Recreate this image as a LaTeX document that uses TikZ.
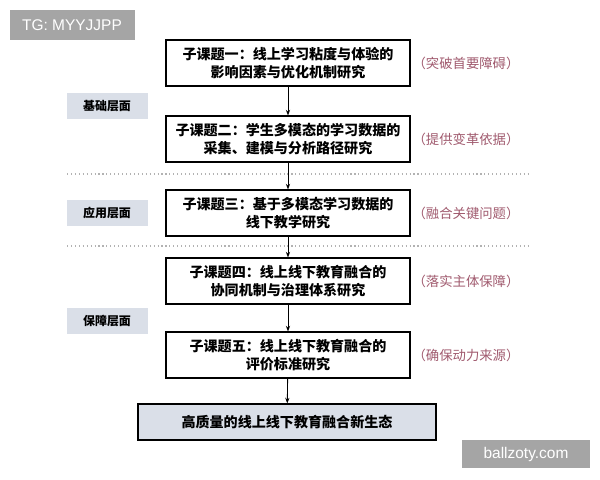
\documentclass[tikz,border=0pt]{standalone}
\usepackage{fontspec}
\setsansfont{Liberation Sans}
\newfontfamily\cjk{Noto Sans CJK SC}
\usetikzlibrary{arrows.meta,positioning}
\definecolor{layerfill}{RGB}{218,223,232}
\definecolor{notered}{RGB}{160,90,110}
\definecolor{markgray}{RGB}{165,165,165}

\begin{document}
\begin{tikzpicture}[x=0.025cm, y=-0.025cm,
    topic/.style={draw=black, thick, minimum width=244*0.025cm, minimum height=46*0.025cm,
                  align=center, font=\cjk\fontsize{10}{12.5}\selectfont\bfseries, inner sep=1pt},
    layer/.style={fill=layerfill, minimum width=81*0.025cm, minimum height=26*0.025cm,
                  font=\cjk\fontsize{8.5}{10}\selectfont\bfseries},
    note/.style={text=notered, font=\cjk\fontsize{9.5}{11}\selectfont},
    arrow/.style={-{Stealth[length=4pt]}, semithick}
]
    \useasboundingbox (0,0) rectangle (600,480);

    % Sub-topics
    \node (t1) [topic] at (288,63) {子课题一：线上学习粘度与体验的\\影响因素与优化机制研究};
    \node (t2) [topic] at (288,139) {子课题二：学生多模态的学习数据的\\采集、建模与分析路径研究};
    \node (t3) [topic] at (288,213) {子课题三：基于多模态学习数据的\\线下教学研究};
    \node (t4) [topic] at (288,281) {子课题四：线上线下教育融合的\\协同机制与治理体系研究};
    \node (t5) [topic] at (288,355) {子课题五：线上线下教育融合的\\评价标准研究};
    \node (goal) [topic, fill=layerfill, minimum width=298*0.025cm, minimum height=36*0.025cm]
        at (287,422) {高质量的线上线下教育融合新生态};

    % Notes
    \node (n1) [note] at (466,63) {（突破首要障碍）};
    \node (n2) [note] at (466,139) {（提供变革依据）};
    \node (n3) [note] at (466,213) {（融合关键问题）};
    \node (n4) [note] at (466,281) {（落实主体保障）};
    \node (n5) [note] at (466,355) {（确保动力来源）};

    % Layers
    \node (l1) [layer] at (107,106) {基础层面};
    \node (l2) [layer] at (107,213) {应用层面};
    \node (l3) [layer] at (107,321) {保障层面};

    % Separators
    \draw [gray!60, dotted, thick] (67,174) -- (530,174);
    \draw [gray!60, dotted, thick] (67,246) -- (530,246);

    % Arrows
    \draw [arrow] (t1) -- (t2);
    \draw [arrow] (t2) -- (t3);
    \draw [arrow] (t3) -- (t4);
    \draw [arrow] (t4) -- (t5);
    \draw [arrow] (t5) -- (goal);

    % Marks
    \node (tg) [fill=markgray, text=white, minimum width=125*0.025cm, minimum height=30*0.025cm,
        font=\sffamily\fontsize{11}{13}\selectfont] at (72,25) {TG: MYYJJPP};
    \node (site) [fill=markgray, text=white, minimum width=128*0.025cm, minimum height=28*0.025cm,
        font=\sffamily\fontsize{11}{13}\selectfont] at (526,454) {ballzoty.com};
\end{tikzpicture}
\end{document}
